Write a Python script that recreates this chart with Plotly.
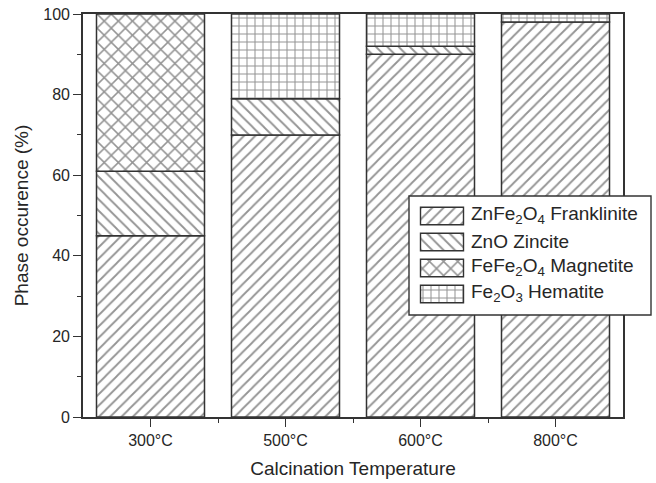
import plotly.graph_objects as go

# Calcination temperatures and phase fractions (%)
temperatures = ["300°C", "500°C", "600°C", "800°C"]
franklinite = [45, 70, 90, 98]   # ZnFe2O4
zincite = [16, 9, 2, 0]          # ZnO
magnetite = [39, 0, 0, 0]        # FeFe2O4
hematite = [0, 21, 8, 2]         # Fe2O3

y_ticks = [0, 20, 40, 60, 80, 100]

phase_names = [
    "ZnFe<sub>2</sub>O<sub>4</sub> Franklinite",
    "ZnO Zincite",
    "FeFe<sub>2</sub>O<sub>4</sub> Magnetite",
    "Fe<sub>2</sub>O<sub>3</sub> Hematite",
]
phase_values = [franklinite, zincite, magnetite, hematite]

FONT = "Liberation Sans, Arial, sans-serif"
INK = "#262626"
LINE = "#333333"
HATCH = "#2a2a2a"

# hatch style for each phase: (shape, tile size, solidity)
hatches = [("/", 8, 0.23), ("\\", 8, 0.23), ("x", 10, 0.28), ("+", 8, 0.24)]

W, H = 656, 483
ML, MR, MT, MB = 83, 3, 14, 66
PLOT_RIGHT = 623  # right edge of the main frame in px
main_dom = (PLOT_RIGHT - ML) / (W - ML - MR)

xpos = list(range(len(temperatures)))

fig = go.Figure()

# stacked columns: each phase sits on the running total of the ones below
running = [0] * len(temperatures)
for name, vals, (shape, size, sol) in zip(phase_names, phase_values, hatches):
    xs, ys, bs = [], [], []
    for i, v in enumerate(vals):
        if v > 0:
            xs.append(xpos[i])
            ys.append(v)
            bs.append(running[i])
        running[i] += v
    fig.add_trace(go.Bar(
        x=xs, y=ys, base=bs,
        name=name,
        width=0.8,
        marker=dict(
            color="white",
            line=dict(color=LINE, width=1.5),
            pattern=dict(shape=shape, size=size, solidity=sol, fgcolor=HATCH),
        ),
        showlegend=False,
        xaxis="x", yaxis="y",
    ))

# Legend panel drawn on a pixel-scaled overlay axis so that the hatched
# swatches can be larger than the built-in legend symbols.
box_l, box_r, box_t, box_b = 409, 651, 196, 315
fig.add_trace(go.Bar(
    x=[box_r - box_l], y=[(box_t + box_b) / 2], base=[box_l],
    orientation="h", width=box_b - box_t,
    marker=dict(color="white", line=dict(color=LINE, width=1.4)),
    showlegend=False, hoverinfo="skip",
    xaxis="x2", yaxis="y2",
))

sw_left, sw_w, sw_h = 420.5, 43, 17.5
row_y0, row_step = 216, 26
for i, (name, (shape, size, sol)) in enumerate(zip(phase_names, hatches)):
    cy = row_y0 + i * row_step
    fig.add_trace(go.Bar(
        x=[sw_w], y=[cy], base=[sw_left], orientation="h", width=sw_h,
        marker=dict(
            color="white",
            line=dict(color=LINE, width=1.4),
            pattern=dict(shape=shape, size=size, solidity=sol,
                         fgcolor=HATCH),
        ),
        showlegend=False, hoverinfo="skip",
        xaxis="x2", yaxis="y2",
    ))
    fig.add_annotation(
        x=sw_left + sw_w + 5, y=cy - 1, xref="x2", yref="y2",
        text=name, showarrow=False, xanchor="left", yanchor="middle",
        font=dict(family=FONT, size=19, color=INK),
    )

fig.update_layout(
    width=W, height=H,
    margin=dict(l=ML, r=MR, t=MT, b=MB),
    paper_bgcolor="white", plot_bgcolor="rgba(0,0,0,0)",
    barmode="overlay",
    font=dict(family=FONT, color=INK),
    xaxis=dict(
        domain=[0, main_dom], range=[-0.5, 3.5],
        tickmode="array", tickvals=xpos, ticktext=temperatures,
        ticks="outside", ticklen=8, tickwidth=1.4, tickcolor=LINE,
        minor=dict(tickvals=[0.5, 1.5, 2.5], ticks="outside", ticklen=4,
                   tickwidth=1.4, tickcolor=LINE),
        showline=True, linecolor=LINE, linewidth=1.6, mirror=True,
        showgrid=False, zeroline=False,
        tickfont=dict(size=16, color=INK),
        title=dict(text="Calcination Temperature", font=dict(size=19, color=INK),
                   standoff=14),
    ),
    yaxis=dict(
        range=[0, 100], tickmode="array", tickvals=y_ticks,
        ticks="outside", ticklen=8, tickwidth=1.4, tickcolor=LINE,
        minor=dict(dtick=10, tick0=0, ticks="outside", ticklen=4,
                   tickwidth=1.4, tickcolor=LINE),
        showline=True, linecolor=LINE, linewidth=1.6, mirror=True,
        showgrid=False, zeroline=False,
        tickfont=dict(size=16, color=INK),
        title=dict(text="Phase occurence (%)", font=dict(size=19, color=INK),
                   standoff=10),
    ),
    xaxis2=dict(domain=[0, 1], range=[ML, W - MR], visible=False,
                anchor="y2", fixedrange=True),
    yaxis2=dict(domain=[0, 1], range=[H - MB, MT], visible=False,
                anchor="x2", fixedrange=True),
)

fig.write_html("out.html")
